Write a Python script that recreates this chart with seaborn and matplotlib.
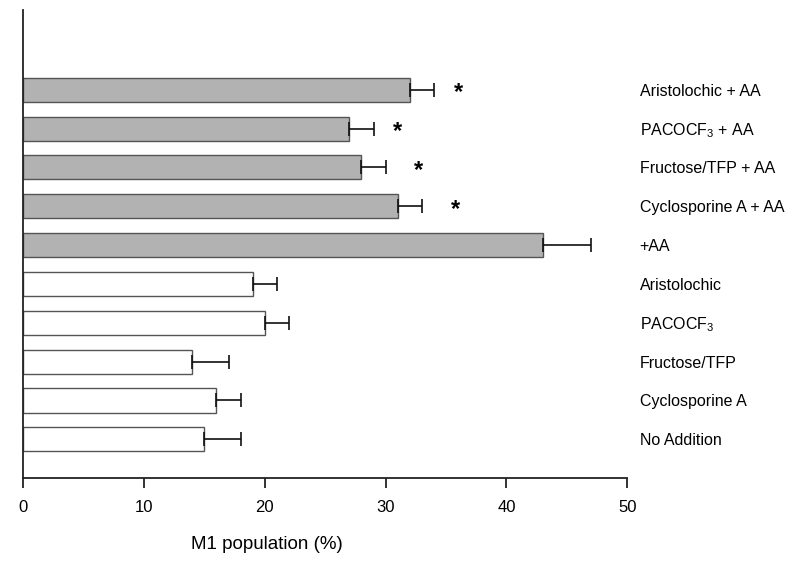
import numpy as np
import pandas as pd
import seaborn as sns
import matplotlib.pyplot as plt

sns.set_style("white")
plt.rcParams["font.family"] = ["Liberation Sans", "DejaVu Sans"]
plt.rcParams["mathtext.fontset"] = "custom"
plt.rcParams["mathtext.rm"] = "Liberation Sans"
plt.rcParams["mathtext.it"] = "Liberation Sans:italic"
plt.rcParams["text.color"] = "black"
plt.rcParams["axes.labelcolor"] = "black"
plt.rcParams["xtick.color"] = "black"
plt.rcParams["ytick.color"] = "black"

# data, top to bottom
labels = ["Aristolochic + AA", "PACOCF$_3$ + AA", "Fructose/TFP + AA",
          "Cyclosporine A + AA", "+AA", "Aristolochic", "PACOCF$_3$",
          "Fructose/TFP", "Cyclosporine A", "No Addition"]
m1_pct = [32, 27, 28, 31, 43, 19, 20, 14, 16, 15]
sem = [2, 2, 2, 2, 4, 2, 2, 3, 2, 3]
with_aa = [True, True, True, True, True, False, False, False, False, False]
# asterisk positions (x) for the significant bars
star_rows = [0, 1, 2, 3]
star_x = [36, 31, 32.7, 35.8]

df = pd.DataFrame({"cond": labels, "m1": m1_pct, "sem": sem, "aa": with_aa})

fig = plt.figure(figsize=(8, 5.74), dpi=100)
ax = fig.add_axes([0.029, 0.167, 0.755, 0.816])

colors = ["#b2b2b2" if a else "white" for a in df["aa"]]
sns.barplot(data=df, x="m1", y="cond", hue="cond", palette=colors, legend=False,
            orient="h", width=0.62, edgecolor="#555555", linewidth=1.0,
            errorbar=None, ax=ax)

ypos = np.arange(len(df))
ax.errorbar(df["m1"], ypos, xerr=[np.zeros(len(df)), df["sem"]], fmt="none",
            ecolor="#111111", elinewidth=1.2, capsize=5, capthick=1.2)

for r, sx in zip(star_rows, star_x):
    ax.text(sx, r + 0.08, "*", fontsize=17, fontweight="bold",
            ha="center", va="center")

ax.set_xlim(0, 50)
ax.set_ylim(10.0, -2.06)
ax.set_xticks([0, 10, 20, 30, 40, 50])
ax.tick_params(axis="x", bottom=True, direction="out", length=7, width=1.3,
               labelsize=12, pad=9, color="#222222")
ax.yaxis.tick_right()
ax.tick_params(axis="y", left=False, right=False, length=0, labelsize=11.5, pad=9)
ax.set_ylabel("")
ax.set_xlabel("M1 population (%)", fontsize=13.5, labelpad=15)
ax.xaxis.label.set_x(0.403)

for s in ["top", "right"]:
    ax.spines[s].set_visible(False)
for s in ["left", "bottom"]:
    ax.spines[s].set_color("#222222")
    ax.spines[s].set_linewidth(1.3)

fig.savefig("out.png", dpi=100)
